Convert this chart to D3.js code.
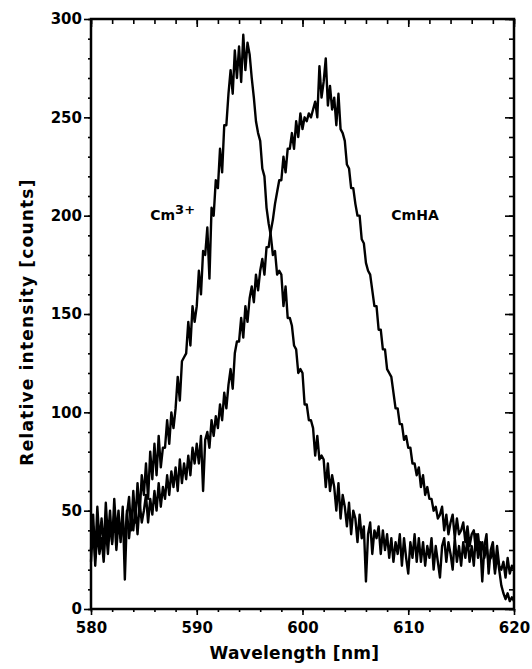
<!DOCTYPE html>
<html>
<head>
<meta charset="utf-8">
<script src="https://cdn.jsdelivr.net/npm/d3@7"></script>
<style>
  body { margin: 0; background: #fff; }
  text { font-family: "DejaVu Sans", sans-serif; fill: #000; }
  .axis path, .axis line { stroke: #000; }
  .axis text { font-size: 15px; font-weight: bold; }
</style>
</head>
<body>
<div id="chart"></div>
<script>
// Chart data
// ==============================
var wlStart = 580;
var wlStep = 0.2;

// Cm3+ aquo ion spectrum, 580 - 620 nm, 0.2 nm steps
var cmIon = [
  30, 48, 26, 52, 34,
  46, 30, 54, 36, 50,
  33, 56, 38, 50, 34,
  52, 15, 48, 57, 40,
  60, 44, 64, 48, 68,
  58, 74, 56, 80, 66,
  84, 68, 88, 72, 82,
  82, 96, 84, 100, 92,
  102, 118, 106, 126, 128,
  130, 146, 134, 154, 146,
  154, 172, 160, 182, 180,
  194, 168, 204, 200, 218,
  214, 234, 222, 246, 246,
  262, 274, 262, 284, 270,
  286, 268, 292, 274, 288,
  282, 270, 260, 248, 242,
  238, 224, 220, 204, 196,
  190, 180, 182, 170, 172,
  170, 154, 164, 148, 148,
  144, 134, 132, 120, 122,
  120, 104, 104, 96, 96,
  92, 78, 88, 76, 78,
  76, 62, 74, 60, 68,
  62, 50, 64, 46, 58,
  52, 42, 54, 38, 50,
  46, 34, 48, 36, 42,
  14, 38, 44, 28, 40,
  36, 42, 28, 40, 30,
  38, 26, 36, 24, 34,
  28, 38, 22, 36, 26,
  18, 34, 26, 38, 24,
  36, 24, 34, 22, 32,
  26, 36, 20, 32, 24,
  16, 32, 36, 24, 34,
  28, 20, 36, 24, 32,
  22, 34, 26, 36, 24,
  32, 22, 38, 26, 34,
  14, 32, 38, 18, 30,
  34, 20, 32, 22, 20,
  24, 16, 26, 18, 22,
  20
];

// CmHA (humate complex) spectrum, same grid
var cmHA = [
  24, 42, 22, 40, 28,
  36, 24, 42, 28, 44,
  34, 48, 30, 44, 36,
  46, 32, 50, 36, 48,
  40, 52, 38, 54, 44,
  50, 58, 44, 56, 48,
  60, 50, 64, 52, 62,
  56, 68, 58, 70, 62,
  72, 60, 76, 64, 74,
  66, 78, 68, 82, 74,
  84, 74, 88, 60, 86,
  90, 82, 96, 88, 98,
  92, 104, 96, 110, 102,
  114, 122, 112, 130, 136,
  136, 148, 138, 154, 146,
  158, 164, 156, 170, 162,
  172, 178, 170, 184, 184,
  192, 198, 206, 212, 218,
  218, 230, 222, 234, 234,
  242, 234, 248, 240, 252,
  244, 250, 248, 252, 250,
  254, 258, 250, 276, 260,
  268, 280, 256, 266, 254,
  260, 246, 262, 244, 242,
  238, 226, 224, 214, 214,
  206, 200, 200, 188, 186,
  176, 172, 170, 162, 154,
  154, 142, 142, 132, 132,
  122, 120, 118, 110, 102,
  102, 94, 94, 86, 88,
  82, 82, 74, 74, 68,
  72, 62, 68, 58, 62,
  56, 56, 50, 52, 46,
  48, 52, 40, 48, 38,
  44, 48, 36, 46, 38,
  40, 44, 34, 42, 32,
  38, 40, 30, 38, 28,
  34, 26, 32, 24, 26,
  30, 18, 28, 20, 12,
  8, 5, 8, 4, 6,
  4
];

var xTicks = [580, 590, 600, 610, 620];
var yTicks = [0, 50, 100, 150, 200, 250, 300];

var svgWidth = 532;
var svgHeight = 669;

var margin = { top: 19, right: 18, bottom: 60, left: 91 };
var width = svgWidth - margin.left - margin.right;
var height = svgHeight - margin.top - margin.bottom;

var svg = d3.select("#chart")
  .append("svg")
  .attr("width", svgWidth)
  .attr("height", svgHeight);

var chartGroup = svg.append("g")
  .attr("transform", `translate(${margin.left}, ${margin.top})`);

// Scales
// ==============================
var xScale = d3.scaleLinear().domain([580, 620]).range([0, width]);
var yScale = d3.scaleLinear().domain([0, 300]).range([height, 0]);

var xMinor = d3.range(580, 620.1, 2);
var yMinor = d3.range(0, 300.1, 10);

// Minor ticks (no labels)
// ==============================
chartGroup.append("g").attr("class", "axis")
  .attr("transform", `translate(0, ${height})`)
  .call(d3.axisBottom(xScale).tickValues(xMinor).tickSize(3).tickFormat(""));
chartGroup.append("g").attr("class", "axis")
  .call(d3.axisTop(xScale).tickValues(xMinor).tickSize(-5).tickFormat(""));
chartGroup.append("g").attr("class", "axis")
  .call(d3.axisLeft(yScale).tickValues(yMinor).tickSize(3).tickFormat(""));
chartGroup.append("g").attr("class", "axis")
  .attr("transform", `translate(${width}, 0)`)
  .call(d3.axisRight(yScale).tickValues(yMinor).tickSize(-5).tickFormat(""));

// Major ticks
// ==============================
chartGroup.append("g").attr("class", "axis")
  .attr("transform", `translate(0, ${height})`)
  .call(d3.axisBottom(xScale).tickValues(xTicks).tickSize(6).tickPadding(7).tickFormat(d3.format("d")));
chartGroup.append("g").attr("class", "axis")
  .call(d3.axisTop(xScale).tickValues(xTicks).tickSize(-8).tickFormat(""));
chartGroup.append("g").attr("class", "axis")
  .call(d3.axisLeft(yScale).tickValues(yTicks).tickSize(7).tickPadding(2).tickFormat(d3.format("d")));
chartGroup.append("g").attr("class", "axis")
  .attr("transform", `translate(${width}, 0)`)
  .call(d3.axisRight(yScale).tickValues(yTicks).tickSize(-9).tickFormat(""));

chartGroup.selectAll(".axis line").attr("stroke-width", 1.6);
chartGroup.selectAll(".axis path").attr("stroke", "none");

// Frame
chartGroup.append("rect")
  .attr("width", width)
  .attr("height", height)
  .attr("fill", "none")
  .attr("stroke", "#000")
  .attr("stroke-width", 2.5);

// Spectra
// ==============================
var line = d3.line()
  .x((d, i) => xScale(wlStart + i * wlStep))
  .y(d => yScale(d));

[cmIon, cmHA].forEach(function(series) {
  chartGroup.append("path")
    .datum(series)
    .attr("fill", "none")
    .attr("stroke", "#000")
    .attr("stroke-width", 2.4)
    .attr("stroke-linejoin", "round")
    .attr("d", line);
});

// Labels
// ==============================
var ionLabel = chartGroup.append("text")
  .attr("x", xScale(585.6))
  .attr("y", yScale(198))
  .attr("font-size", "14px")
  .attr("font-weight", "bold");
ionLabel.append("tspan").text("Cm");
ionLabel.append("tspan").attr("dy", "-6").attr("font-size", "13px").text("3+");

chartGroup.append("text")
  .attr("x", xScale(608.4))
  .attr("y", yScale(198))
  .attr("font-size", "14px")
  .attr("font-weight", "bold")
  .text("CmHA");

svg.append("text")
  .attr("x", margin.left + width / 2 - 8)
  .attr("y", 659)
  .attr("text-anchor", "middle")
  .attr("font-size", "17px")
  .attr("font-weight", "bold")
  .attr("letter-spacing", "0.3px")
  .text("Wavelength [nm]");

svg.append("text")
  .attr("transform", `translate(33, 322) rotate(-90)`)
  .attr("text-anchor", "middle")
  .attr("font-size", "17px")
  .attr("font-weight", "bold")
  .attr("letter-spacing", "1.2px")
  .text("Relative intensity [counts]");
</script>
</body>
</html>
